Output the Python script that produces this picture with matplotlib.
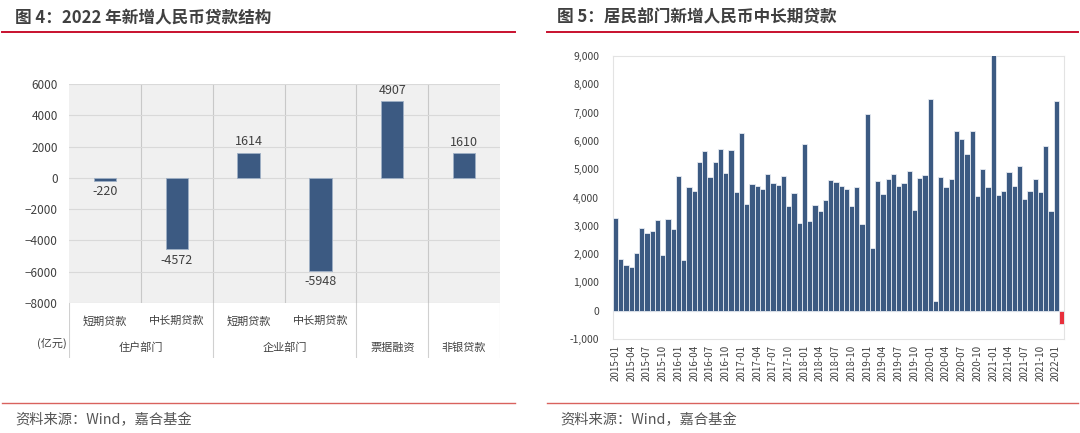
import pandas as pd
import matplotlib
matplotlib.use('Agg')
import matplotlib.pyplot as plt
from matplotlib.lines import Line2D
from matplotlib.ticker import FuncFormatter

plt.rcParams['font.family'] = ['Noto Sans CJK SC', 'DejaVu Sans']

# ---- data: figure 4 ----
loan_types = ['短期贷款', '中长期贷款', '短期贷款', '中长期贷款', '', '']
loan_groups = ['住户部门', '企业部门', '票据融资', '非银贷款']
loan_values = [-220, -4572, 1614, -5948, 4907, 1610]

# ---- data: figure 5 ----
months = [p.strftime('%Y-%m') for p in pd.period_range('2015-01', '2022-02', freq='M')]
hh_mlt = [3270, 1828, 1627, 1533, 2040, 2913, 2748, 2818, 3219, 1958, 3243, 2889,
          4764, 1780, 4387, 4245, 5259, 5637, 4741, 5259, 5708, 4870, 5684, 4186,
          6285, 3774, 4469, 4416, 4304, 4823, 4517, 4458, 4758, 3691, 4157, 3084,
          5896, 3184, 3732, 3514, 3897, 4623, 4540, 4399, 4287, 3703, 4363, 3048,
          6963, 2199, 4575, 4139, 4658, 4835, 4399, 4511, 4923, 3561, 4682, 4800,
          7470, 330, 4717, 4369, 4640, 6344, 6050, 5554, 6344, 4039, 5024, 4369,
          9141, 4092, 4220, 4894, 4399, 5130, 3939, 4233, 4640, 4204, 5814, 3538,
          7417, -459]

W, H = 1080, 433


def rect(l, t, r, b):
    return [l / W, 1 - b / H, (r - l) / W, (b - t) / H]


fig = plt.figure(figsize=(W / 100, H / 100), dpi=100)
fig.patch.set_facecolor('white')

navy = '#3c5a82'
txt = '#404040'

# headers / footers
fig.text(15 / W, 1 - 17 / H, '图 4：2022 年新增人民币贷款结构', fontsize=12,
         fontweight='bold', color=txt, va='center')
fig.text(557 / W, 1 - 17 / H, '图 5：居民部门新增人民币中长期贷款', fontsize=12,
         fontweight='bold', color=txt, va='center')
for x0, x1 in [(2, 515), (547, 1078)]:
    fig.add_artist(Line2D([x0 / W, x1 / W], [1 - 32 / H] * 2, color='#c8102e', lw=1.4))
    fig.add_artist(Line2D([x0 / W, x1 / W], [1 - 403 / H] * 2, color='#d9625e', lw=1.0))
fig.text(15 / W, 1 - 420 / H, '资料来源：Wind，嘉合基金', fontsize=10.3, color='#555555', va='center')
fig.text(560 / W, 1 - 420 / H, '资料来源：Wind，嘉合基金', fontsize=10.3, color='#555555', va='center')

# ---- left chart ----
ax = fig.add_axes(rect(69, 84, 500, 303))
ax.set_facecolor('#f0f0f0')
x = list(range(len(loan_values)))
ax.bar(x, loan_values, width=0.31, color=navy, edgecolor='#9fb0c6', linewidth=0.6, zorder=3)
ax.set_xlim(-0.5, 5.5)
ax.set_ylim(-8000, 6000)
ax.set_yticks(range(-8000, 6001, 2000))
ax.tick_params(axis='y', length=0, labelsize=8.5, labelcolor=txt, pad=8)
ax.set_xticks([])
for s in ax.spines.values():
    s.set_visible(False)
ax.grid(axis='y', color='#d9d9d9', lw=0.8, zorder=1)
for b in [0.5, 1.5, 2.5, 3.5, 4.5]:
    ax.axvline(b, color='#c8c8c8', lw=0.8, zorder=1)
for xi, v in zip(x, loan_values):
    if v >= 0:
        ax.annotate(str(v), (xi, v), xytext=(0, 3), textcoords='offset points',
                    ha='center', va='bottom', fontsize=9, color=txt)
    else:
        ax.annotate(str(v), (xi, v), xytext=(0, -3), textcoords='offset points',
                    ha='center', va='top', fontsize=9, color=txt)

tab = fig.add_axes(rect(69, 303, 500, 358))
tab.set_xlim(-0.5, 5.5)
tab.set_ylim(0, 1)
tab.axis('off')
for b in [-0.5, 1.5, 3.5, 4.5, 5.5]:
    tab.plot([b, b], [0, 1], color='#d0d0d0', lw=0.8)
for xi, lab in zip(x, loan_types):
    tab.text(xi, 0.67, lab, ha='center', va='center', fontsize=8, color=txt)
for gx, lab in zip([0.5, 2.5, 4, 5], loan_groups):
    tab.text(gx, 0.18, lab, ha='center', va='center', fontsize=8, color=txt)
fig.text(67 / W, 1 - 343 / H, '(亿元)', ha='right', va='center', fontsize=8, color=txt)

# ---- right chart ----
ax2 = fig.add_axes(rect(613, 56, 1064, 339))
xs = list(range(len(hh_mlt)))
colors = [navy if v >= 0 else '#e8303c' for v in hh_mlt]
ax2.bar(xs, hh_mlt, width=1.0, color=colors, edgecolor='#e6ebf2', linewidth=0.6, zorder=3)
ax2.set_xlim(-0.5, len(hh_mlt) - 0.5)
ax2.set_ylim(-1000, 9000)
ax2.set_yticks(range(-1000, 9001, 1000))
ax2.yaxis.set_major_formatter(FuncFormatter(lambda v, p: f'{int(v):,}'))
ax2.tick_params(axis='y', length=0, labelsize=7.5, labelcolor=txt, pad=10)
ax2.set_xticks(xs[::3])
ax2.set_xticklabels(months[::3], rotation=90, fontsize=7, color=txt)
ax2.tick_params(axis='x', length=0, pad=4)
for s in ax2.spines.values():
    s.set_color('#e3e3e3')
    s.set_linewidth(0.8)
ax2.axhline(0, color='#c8c8c8', lw=0.8, zorder=2)

fig.savefig('out.png', dpi=100)
